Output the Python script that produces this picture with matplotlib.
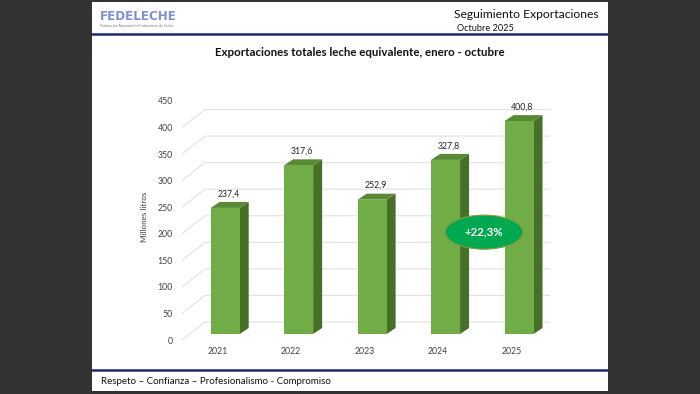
import matplotlib
matplotlib.use("Agg")
import matplotlib.pyplot as plt
from matplotlib.patches import Rectangle, Polygon, Ellipse
from matplotlib.lines import Line2D
from matplotlib.transforms import IdentityTransform

plt.rcParams['font.family'] = ['Lato', 'DejaVu Sans']

# data
years = ['2021', '2022', '2023', '2024', '2025']
exports = [237.4, 317.6, 252.9, 327.8, 400.8]
exports_lbl = ['237,4', '317,6', '252,9', '327,8', '400,8']
yticks = [0, 50, 100, 150, 200, 250, 300, 350, 400, 450]
growth_lbl = '+22,3%'

W, H = 700, 394
fig = plt.figure(figsize=(W / 100, H / 100), dpi=100)
fig.patch.set_facecolor('#333333')

# slide background / header / footer
bg = fig.add_axes([0, 0, 1, 1])
bg.set_xlim(0, W)
bg.set_ylim(H, 0)
bg.axis('off')
bg.add_patch(Rectangle((92, 2), 516, 389, facecolor='white', edgecolor='none'))
bg.plot([92, 607], [34, 34], color='#1f2d6b', lw=1.8)
bg.plot([92, 607], [370, 370], color='#1f2d6b', lw=1.8)
bg.text(100, 16, 'FEDELECHE', fontsize=8.6, fontweight='bold', color='#7f8fd0',
        family='DejaVu Sans', va='center', ha='left')
bg.text(100, 26, 'Federación Nacional de Productores de Leche', fontsize=2.6,
        color='#777777', va='center', ha='left')
bg.text(599, 14, 'Seguimiento Exportaciones', fontsize=8.7, color='#111111',
        ha='right', va='center')
bg.text(457, 28, 'Octubre 2025', fontsize=6.6, color='#111111', ha='left', va='center')
bg.text(360, 52, 'Exportaciones totales leche equivalente, enero - octubre',
        fontsize=8.3, fontweight='bold', color='#111111', ha='center', va='center')
bg.text(101, 382, 'Respeto – Confianza – Profesionalismo - Compromiso',
        fontsize=7.0, color='#111111', ha='left', va='center')

# chart axes = front plane of 3d box
ax = fig.add_axes([182 / W, (H - 340) / H, (550 - 182) / W, (340 - 101) / H])
ax.patch.set_alpha(0)
ax.set_xlim(-0.486, 4.524)
ax.set_ylim(0, 450)
for s in ax.spines.values():
    s.set_visible(False)
ax.set_yticks(yticks)
ax.set_yticklabels([str(t) for t in yticks])
ax.set_xticks(range(len(years)))
ax.set_xticklabels(years)
ax.tick_params(axis='both', length=0, labelsize=6.3, labelcolor='#404040')
ax.tick_params(axis='y', pad=6.5)
ax.tick_params(axis='x', pad=5)
ax.set_ylabel('Millones litros', fontsize=5.8, color='#404040')
ax.yaxis.set_label_coords(-0.092, 0.515)

disp = IdentityTransform()
wall_dx, wall_dy = 23, 18   # back wall offset (pixels)
x0, x1 = ax.get_xlim()

for t in yticks:
    px, py = ax.transData.transform((x0, t))
    qx, _ = ax.transData.transform((x1, t))
    ln = Line2D([px, px + wall_dx, qx + wall_dx], [py, py + wall_dy, py + wall_dy],
                color='#e2e2e2', lw=0.8, transform=disp, zorder=1)
    ax.add_artist(ln)

# 3d bars
shift_x, shift_y = 7.5, 6      # bar front face offset from front plane
half_w = 14.5
dep_x, dep_y = 9, 6            # bar depth
c_front, c_side, c_top = '#70ad47', '#466f28', '#588a35'

for i, v in enumerate(exports):
    cx, yb = ax.transData.transform((i, 0))
    _, yt = ax.transData.transform((i, v))
    xl = cx + shift_x - half_w
    xr = cx + shift_x + half_w
    yb += shift_y
    yt += shift_y
    ax.add_artist(Polygon([(xr, yb), (xr + dep_x, yb + dep_y), (xr + dep_x, yt + dep_y), (xr, yt)],
                          closed=True, facecolor=c_side, edgecolor='none', transform=disp, zorder=2))
    ax.add_artist(Polygon([(xl, yt), (xr, yt), (xr + dep_x, yt + dep_y), (xl + dep_x, yt + dep_y)],
                          closed=True, facecolor=c_top, edgecolor='none', transform=disp, zorder=2))
    ax.add_artist(Rectangle((xl, yb), xr - xl, yt - yb, facecolor=c_front,
                            edgecolor='none', transform=disp, zorder=3))
    ax.annotate(exports_lbl[i], xy=(i, v), xytext=(11, 20), textcoords='offset pixels',
                ha='center', va='center', fontsize=6.3, color='#262626', zorder=4)

# growth badge
ax.add_patch(Ellipse((3.626, 203), 1.062, 64, facecolor='#00a84f', edgecolor='#8a9a40',
                     lw=0.8, zorder=5))
ax.text(3.626, 203, growth_lbl, ha='center', va='center', fontsize=8.3,
        fontweight='bold', color='white', zorder=6)

fig.savefig('out.png', dpi=100, facecolor=fig.get_facecolor())
